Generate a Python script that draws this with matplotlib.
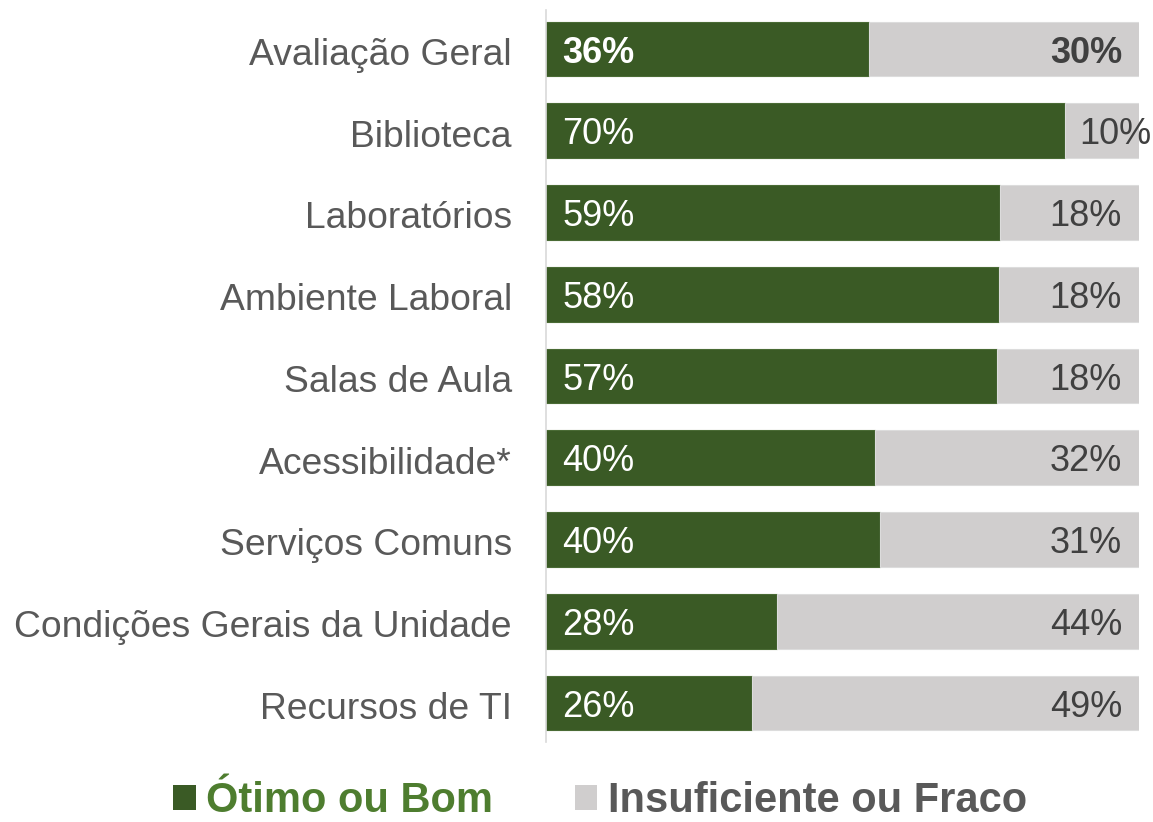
import matplotlib
matplotlib.use("Agg")
import matplotlib.pyplot as plt
from matplotlib.patches import Patch

categorias = ["Avaliação Geral", "Biblioteca", "Laboratórios", "Ambiente Laboral",
              "Salas de Aula", "Acessibilidade*", "Serviços Comuns",
              "Condições Gerais da Unidade", "Recursos de TI"]
otimo_bom = [36, 70, 59, 58, 57, 40, 40, 28, 26]
insuf_fraco = [30, 10, 18, 18, 18, 32, 31, 44, 49]

verde = "#3A5A25"
cinza = "#D0CECE"
texto = "#595959"

plt.rcParams['font.family'] = ['Liberation Sans', 'DejaVu Sans']

fig = plt.figure(figsize=(11.53, 8.22), dpi=100)
ax = fig.add_axes([546/1153, 1-742/822, 593/1153, 732/822])

y = list(range(len(categorias)))
fr_verde = [g / (g + r) for g, r in zip(otimo_bom, insuf_fraco)]
fr_cinza = [r / (g + r) for g, r in zip(otimo_bom, insuf_fraco)]

ax.barh(y, fr_verde, height=0.67, color=verde, edgecolor="#4a6b35", linewidth=0.8)
ax.barh(y, fr_cinza, left=fr_verde, height=0.67, color=cinza, edgecolor="#dcdcdc", linewidth=0.8)

# rótulos de valor (ligeiramente abaixo para centrar visualmente)
dy = 0.05
for i in y:
    peso = "bold" if i == 0 else "normal"
    ax.text(0.027, i + dy, f"{otimo_bom[i]}%", color="white", fontsize=26,
            fontweight=peso, va="center", ha="left")
    if fr_cinza[i] < 0.16:
        ax.text(fr_verde[i] + 0.025, i + dy, f"{insuf_fraco[i]}%", color="#404040",
                fontsize=26, fontweight=peso, va="center", ha="left")
    else:
        ax.text(1 - 0.0287, i + dy, f"{insuf_fraco[i]}%", color="#404040",
                fontsize=26, fontweight=peso, va="center", ha="right")

ax.set_xlim(0, 1)
ax.set_ylim(len(categorias) - 1 + 0.477, -0.477)
ax.set_yticks([v + 0.03 for v in y])
ax.set_yticklabels(categorias, fontsize=26.8, color=texto)
ax.tick_params(axis="y", length=0, pad=24.5)
ax.set_xticks([])
for s in ["top", "right", "bottom"]:
    ax.spines[s].set_visible(False)
ax.spines["left"].set_color("#D9D9D9")
ax.spines["left"].set_linewidth(1.2)

handles = [Patch(facecolor=verde, edgecolor="none"), Patch(facecolor=cinza, edgecolor="none")]
leg = fig.legend(handles, ["Ótimo ou Bom", "Insuficiente ou Fraco"], loc="center",
                 bbox_to_anchor=(600/1153, 1-801/822), ncol=2, frameon=False,
                 borderaxespad=0, borderpad=0,
                 handlelength=0.55, handleheight=0.55, handletextpad=0.25,
                 columnspacing=1.95, prop={"size": 30, "weight": "bold"})
leg.get_texts()[0].set_color("#4E7D2F")
leg.get_texts()[1].set_color(texto)

fig.savefig("out.png", dpi=100)
